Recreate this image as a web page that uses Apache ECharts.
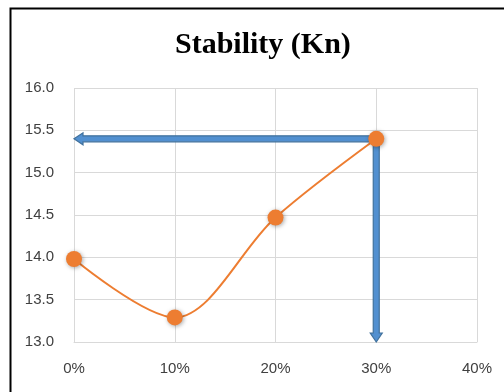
<!DOCTYPE html>
<html>
<head>
<meta charset="utf-8">
<script src="https://cdn.jsdelivr.net/npm/echarts@6/dist/echarts.min.js"></script>
<style>
  html, body { margin: 0; padding: 0; background: #fff; }
  #chart { width: 504px; height: 392px; }
</style>
</head>
<body>
<div id="chart"></div>
<script>
// Replacement ratio (%) and measured stability (kN)
const ratios = [0, 10, 20, 30];
const stability = [13.98, 13.29, 14.47, 15.4];
// Axis ranges
const xTicks = [0, 10, 20, 30, 40];
const yTicks = [13.0, 13.5, 14.0, 14.5, 15.0, 15.5, 16.0];
// Optimum point that the guide arrows point out
const optIndex = 3;

const optX = ratios[optIndex];
const optY = stability[optIndex];
const axisFont = 'Liberation Sans, Arial, sans-serif';

// Guide arrows: from the optimum point to the y axis and down to the x axis
const arrowSegments = [
  [optX, optY, xTicks[0], optY],
  [optX, optY, optX, yTicks[0]]
];

// Block arrow drawn in pixel space from two data-space end points
function renderArrow(params, api) {
  const p0 = api.coord([api.value(0), api.value(1)]);
  const p1 = api.coord([api.value(2), api.value(3)]);
  const dx = p1[0] - p0[0], dy = p1[1] - p0[1];
  const len = Math.hypot(dx, dy) || 1;
  const ux = dx / len, uy = dy / len;      // along the arrow
  const nx = -uy, ny = ux;                 // across the arrow
  const shaft = 3, head = 6, headLen = 9, back = 3;
  const sx = p0[0] - ux * back, sy = p0[1] - uy * back;
  const bx = p1[0] - ux * headLen, by = p1[1] - uy * headLen;
  const pts = [
    [sx + nx * shaft, sy + ny * shaft],
    [bx + nx * shaft, by + ny * shaft],
    [bx + nx * head, by + ny * head],
    [p1[0], p1[1]],
    [bx - nx * head, by - ny * head],
    [bx - nx * shaft, by - ny * shaft],
    [sx - nx * shaft, sy - ny * shaft]
  ];
  return {
    type: 'polygon',
    shape: { points: pts },
    style: { fill: '#5290d0', stroke: '#41719c', lineWidth: 1.2 }
  };
}

const chart = echarts.init(document.getElementById('chart'), null, { renderer: 'canvas' });
chart.setOption({
  animation: false,
  backgroundColor: '#ffffff',
  title: {
    text: 'Stability (Kn)',
    left: 170,
    top: 25,
    textStyle: {
      fontFamily: 'Liberation Serif, Times New Roman, serif',
      fontWeight: 'bold',
      fontSize: 30,
      color: '#000000'
    }
  },
  graphic: [{
    type: 'rect',
    left: 8,
    top: 6,
    shape: { width: 520, height: 420 },
    style: { fill: 'none', stroke: '#000000', lineWidth: 2 },
    z: 100
  }],
  grid: { left: 74, right: 27, top: 88, bottom: 50 },
  xAxis: {
    type: 'value',
    min: xTicks[0],
    max: xTicks[xTicks.length - 1],
    interval: 10,
    axisLine: { show: true, lineStyle: { color: '#d9d9d9', width: 1 } },
    axisTick: { show: false },
    splitLine: { show: true, lineStyle: { color: '#d9d9d9', width: 1 } },
    axisLabel: {
      formatter: '{value}%',
      color: '#404040',
      fontFamily: axisFont,
      fontSize: 15,
      margin: 19
    }
  },
  yAxis: {
    type: 'value',
    min: yTicks[0],
    max: yTicks[yTicks.length - 1],
    interval: 0.5,
    axisLine: { show: false },
    axisTick: { show: false },
    splitLine: { show: true, lineStyle: { color: '#d9d9d9', width: 1 } },
    axisLabel: {
      formatter: v => v.toFixed(1),
      color: '#404040',
      fontFamily: axisFont,
      fontSize: 15,
      margin: 20
    }
  },
  series: [
    {
      name: 'guide-arrows',
      type: 'custom',
      silent: true,
      clip: false,
      z: 3,
      renderItem: renderArrow,
      encode: { x: [0, 2], y: [1, 3] },
      data: arrowSegments
    },
    {
      name: 'Stability',
      type: 'line',
      smooth: 0.33,
      data: ratios.map((r, i) => [r, stability[i]]),
      z: 5,
      lineStyle: { color: '#ed7d31', width: 2 },
      symbol: 'circle',
      symbolSize: 16,
      itemStyle: {
        color: '#ed7d31',
        shadowColor: 'rgba(0,0,0,0.35)',
        shadowBlur: 4,
        shadowOffsetX: 1,
        shadowOffsetY: 1
      }
    }
  ]
});
</script>
</body>
</html>
